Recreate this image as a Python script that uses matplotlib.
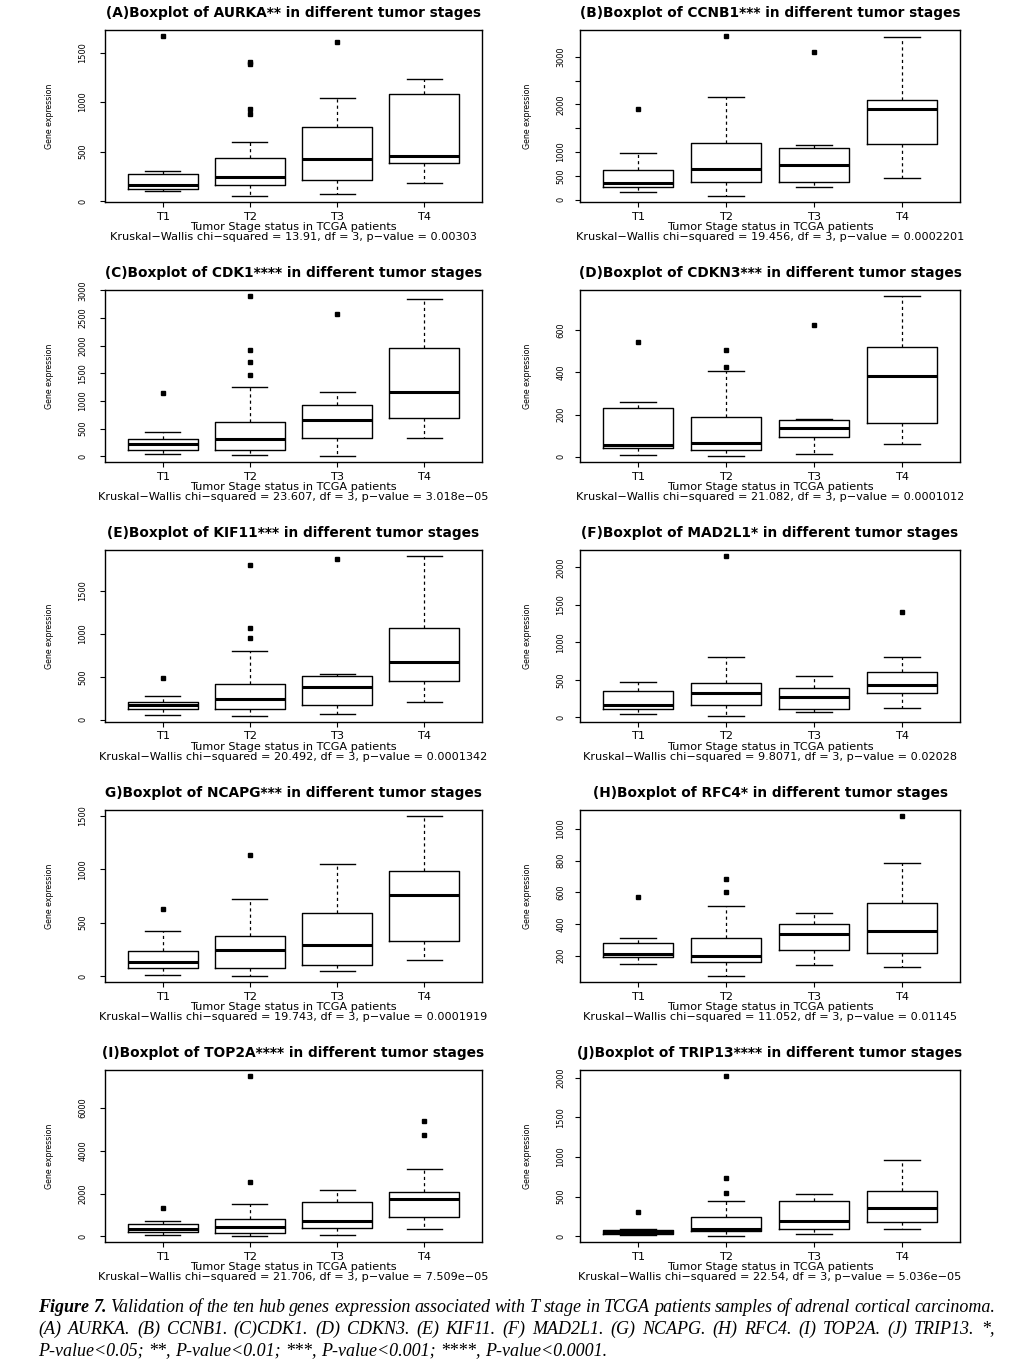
import matplotlib
matplotlib.use('Agg')
import matplotlib.pyplot as plt
from matplotlib import font_manager

W, H = 1022, 1370
DPI = 100

stages = ['T1', 'T2', 'T3', 'T4']

titles = [
    '(A)Boxplot of AURKA** in different tumor stages',
    '(B)Boxplot of CCNB1*** in different tumor stages',
    '(C)Boxplot of CDK1**** in different tumor stages',
    '(D)Boxplot of CDKN3*** in different tumor stages',
    '(E)Boxplot of KIF11*** in different tumor stages',
    '(F)Boxplot of MAD2L1* in different tumor stages',
    'G)Boxplot of NCAPG*** in different tumor stages',
    '(H)Boxplot of RFC4* in different tumor stages',
    '(I)Boxplot of TOP2A**** in different tumor stages',
    '(J)Boxplot of TRIP13**** in different tumor stages',
]

kw_texts = [
    'Kruskal\u2212Wallis chi\u2212squared = 13.91, df = 3, p\u2212value = 0.00303',
    'Kruskal\u2212Wallis chi\u2212squared = 19.456, df = 3, p\u2212value = 0.0002201',
    'Kruskal\u2212Wallis chi\u2212squared = 23.607, df = 3, p\u2212value = 3.018e\u221205',
    'Kruskal\u2212Wallis chi\u2212squared = 21.082, df = 3, p\u2212value = 0.0001012',
    'Kruskal\u2212Wallis chi\u2212squared = 20.492, df = 3, p\u2212value = 0.0001342',
    'Kruskal\u2212Wallis chi\u2212squared = 9.8071, df = 3, p\u2212value = 0.02028',
    'Kruskal\u2212Wallis chi\u2212squared = 19.743, df = 3, p\u2212value = 0.0001919',
    'Kruskal\u2212Wallis chi\u2212squared = 11.052, df = 3, p\u2212value = 0.01145',
    'Kruskal\u2212Wallis chi\u2212squared = 21.706, df = 3, p\u2212value = 7.509e\u221205',
    'Kruskal\u2212Wallis chi\u2212squared = 22.54, df = 3, p\u2212value = 5.036e\u221205',
]

xlabel_text = 'Tumor Stage status in TCGA patients'
ylabel_text = 'Gene expression'

# Five-number summaries per stage: [whisker low, Q1, median, Q3, whisker high]
aurka_stats = [[101, 125, 158, 276, 303], [54, 158, 246, 435, 600],
               [74, 216, 421, 752, 1045], [179, 388, 458, 1082, 1230]]
aurka_out = [[1665], [1405, 1390, 933, 883], [1607], []]
aurka_yticks = [0, 500, 1000, 1500]
aurka_ylabels = ['0', '500', '1000', '1500']

ccnb1_stats = [[161, 273, 357, 630, 987], [84, 371, 644, 1197, 2163],
               [273, 371, 721, 1092, 1155], [462, 1176, 1897, 2100, 3423]]
ccnb1_out = [[1897], [3430], [3101], []]
ccnb1_yticks = [0, 500, 1000, 1500, 2000, 2500, 3000]
ccnb1_ylabels = ['0', '500', '1000', '', '2000', '', '3000']

cdk1_stats = [[42, 108, 216, 318, 438], [30, 114, 318, 612, 1254],
              [12, 324, 654, 936, 1158], [330, 690, 1158, 1962, 2850]]
cdk1_out = [[1146], [2892, 1920, 1698, 1464], [2570], []]
cdk1_yticks = [0, 500, 1000, 1500, 2000, 2500, 3000]
cdk1_ylabels = ['0', '500', '1000', '1500', '2000', '2500', '3000']

cdkn3_stats = [[8, 43, 57, 230, 260], [6, 33, 65, 191, 405],
               [14, 95, 139, 173, 180], [61, 159, 383, 518, 759]]
cdkn3_out = [[545], [505, 427], [622], []]
cdkn3_yticks = [0, 200, 400, 600]
cdkn3_ylabels = ['0', '200', '400', '600']

kif11_stats = [[54, 131, 170, 213, 275], [50, 124, 240, 414, 804],
               [66, 170, 385, 514, 537], [213, 452, 677, 1071, 1899]]
kif11_out = [[483], [1798, 1063, 951], [1868], []]
kif11_yticks = [0, 500, 1000, 1500]
kif11_ylabels = ['0', '500', '1000', '1500']

mad2l1_stats = [[44, 106, 160, 355, 466], [22, 160, 324, 457, 798],
                [67, 115, 266, 390, 550], [129, 328, 430, 599, 807]]
mad2l1_out = [[], [2147], [], [1406]]
mad2l1_yticks = [0, 500, 1000, 1500, 2000]
mad2l1_ylabels = ['0', '500', '1000', '1500', '2000']

ncapg_stats = [[12, 78, 128, 236, 420], [3, 78, 246, 370, 722],
               [50, 103, 292, 594, 1048], [152, 330, 762, 980, 1496]]
ncapg_out = [[628], [1135], [], []]
ncapg_yticks = [0, 500, 1000, 1500]
ncapg_ylabels = ['0', '500', '1000', '1500']

rfc4_stats = [[150, 190, 210, 280, 309], [74, 158, 200, 311, 515],
              [143, 238, 339, 402, 467], [131, 215, 353, 534, 788]]
rfc4_out = [[572], [685, 603], [], [1080]]
rfc4_yticks = [200, 400, 600, 800, 1000]
rfc4_ylabels = ['200', '400', '600', '800', '1000']

top2a_stats = [[78, 186, 326, 559, 730], [31, 171, 451, 824, 1492],
               [47, 373, 715, 1616, 2145], [357, 917, 1740, 2067, 3139]]
top2a_out = [[1321], [7490, 2549], [], [5408, 4755]]
top2a_yticks = [0, 2000, 4000, 6000]
top2a_ylabels = ['0', '2000', '4000', '6000']

trip13_stats = [[21, 33, 54, 84, 88], [8, 63, 92, 238, 439],
                [29, 92, 188, 439, 527], [88, 176, 356, 565, 967]]
trip13_out = [[301], [2017, 741, 540], [], []]
trip13_yticks = [0, 500, 1000, 1500, 2000]
trip13_ylabels = ['0', '500', '1000', '1500', '2000']

panel_stats = [aurka_stats, ccnb1_stats, cdk1_stats, cdkn3_stats, kif11_stats,
               mad2l1_stats, ncapg_stats, rfc4_stats, top2a_stats, trip13_stats]
panel_out = [aurka_out, ccnb1_out, cdk1_out, cdkn3_out, kif11_out,
             mad2l1_out, ncapg_out, rfc4_out, top2a_out, trip13_out]
panel_yticks = [aurka_yticks, ccnb1_yticks, cdk1_yticks, cdkn3_yticks, kif11_yticks,
                mad2l1_yticks, ncapg_yticks, rfc4_yticks, top2a_yticks, trip13_yticks]
panel_ylabels = [aurka_ylabels, ccnb1_ylabels, cdk1_ylabels, cdkn3_ylabels, kif11_ylabels,
                 mad2l1_ylabels, ncapg_ylabels, rfc4_ylabels, top2a_ylabels, trip13_ylabels]

caption_line1 = 'Validation of the ten hub genes expression associated with T stage in TCGA patients samples of adrenal cortical carcinoma.'
caption_line2 = '(A) AURKA. (B) CCNB1. (C)CDK1. (D) CDKN3. (E) KIF11. (F) MAD2L1. (G) NCAPG. (H) RFC4. (I) TOP2A. (J) TRIP13. *,'
caption_line3 = 'P-value<0.05; **, P-value<0.01; ***, P-value<0.001; ****, P-value<0.0001.'

# ---------------- fonts ----------------
avail = {f.name for f in font_manager.fontManager.ttflist}
if 'Liberation Sans Narrow' in avail:
    NARROW = dict(family='Liberation Sans Narrow')
else:
    NARROW = dict(family='DejaVu Sans', stretch='condensed')
SANS = 'DejaVu Sans'
SERIF = 'Liberation Serif' if 'Liberation Serif' in avail else 'DejaVu Serif'

fig = plt.figure(figsize=(W / DPI, H / DPI), dpi=DPI)
fig.patch.set_facecolor('white')


def fx(x):
    return x / W


def fy(y):
    return 1 - y / H


col_geom = [(105, 377), (580, 380)]
row_tops = [30, 290, 550, 810, 1070]
AX_H = 172
ytick_off = [-22, -19]
ylab_x = [50, 527]
SUB_FS = 8.1

for i in range(10):
    r, c = divmod(i, 2)
    left, width = col_geom[c]
    top = row_tops[r]
    ax = fig.add_axes([fx(left), fy(top + AX_H), width / W, AX_H / H])

    stats_list = []
    allvals = []
    for s, o in zip(panel_stats[i], panel_out[i]):
        stats_list.append(dict(whislo=s[0], q1=s[1], med=s[2], q3=s[3], whishi=s[4], fliers=o))
        allvals += list(s) + list(o)

    ax.bxp(stats_list, positions=[1, 2, 3, 4], widths=0.8, showfliers=True,
           manage_ticks=False,
           boxprops=dict(color='black', linewidth=1.0),
           whiskerprops=dict(color='black', linewidth=0.9, linestyle=(0, (2.5, 2.5))),
           capprops=dict(color='black', linewidth=1.0),
           medianprops=dict(color='black', linewidth=2.2, solid_capstyle='butt'),
           flierprops=dict(marker='s', markerfacecolor='black', markeredgecolor='black',
                           markersize=2.5, linestyle='none'))

    lo, hi = min(allvals), max(allvals)
    rng = hi - lo
    ax.set_ylim(lo - 0.04 * rng, hi + 0.04 * rng)
    ax.set_xlim(0.34, 4.66)

    for sp in ax.spines.values():
        sp.set_linewidth(1.0)
        sp.set_color('black')

    ax.set_xticks([1, 2, 3, 4])
    ax.set_xticklabels([])
    ax.set_yticks(panel_yticks[i])
    ax.set_yticklabels([])
    ax.tick_params(axis='both', direction='out', length=3.6, width=0.8, color='black')
    ax.tick_params(axis='x', top=False)
    ax.tick_params(axis='y', right=False)

    # x tick labels
    for k, lab in enumerate(stages):
        ax.annotate(lab, xy=(k + 1, 0), xycoords=('data', 'axes fraction'),
                    xytext=(0, -14.5), textcoords='offset pixels',
                    ha='center', va='center', fontsize=SUB_FS, family=SANS)
    # y tick labels (rotated, like R)
    for v, lab in zip(panel_yticks[i], panel_ylabels[i]):
        if lab:
            ax.annotate(lab, xy=(0, v), xycoords=('axes fraction', 'data'),
                        xytext=(ytick_off[c], 0), textcoords='offset pixels',
                        rotation=90, ha='center', va='center', fontsize=6.6, **NARROW)

    cx = left + width / 2
    fig.text(fx(cx), fy(top - 17), titles[i], ha='center', va='center',
             fontsize=9.9, fontweight='bold', family=SANS)
    fig.text(fx(cx), fy(top + AX_H + 25), xlabel_text, ha='center', va='center',
             fontsize=SUB_FS, family=SANS)
    fig.text(fx(cx), fy(top + AX_H + 34.5), kw_texts[i], ha='center', va='center',
             fontsize=SUB_FS, family=SANS)
    fig.text(fx(ylab_x[c]), fy(top + AX_H / 2), ylabel_text, rotation=90,
             ha='center', va='center', fontsize=6.3, **NARROW)

# ---------------- caption ----------------
renderer = fig.canvas.get_renderer()
CAP_FS = 13.0


def draw_line(words, y_px, x0, x1, justify):
    objs = []
    for w, bold in words:
        t = fig.text(0, fy(y_px), w, fontsize=CAP_FS, family=SERIF, style='italic',
                     fontweight='bold' if bold else 'normal', ha='left', va='center')
        objs.append(t)
    widths = [t.get_window_extent(renderer).width for t in objs]
    nat_gap = CAP_FS * DPI / 72 * 0.25
    if justify and len(objs) > 1:
        gap = (x1 - x0 - sum(widths)) / (len(objs) - 1)
        gap = max(gap, nat_gap * 0.5)
    else:
        gap = nat_gap
    x = x0
    for t, wd in zip(objs, widths):
        t.set_x(fx(x))
        x += wd + gap


line1 = [('Figure', True), ('7.', True)] + [(w, False) for w in caption_line1.split(' ')]
line2 = [(w, False) for w in caption_line2.split(' ')]
line3 = [(w, False) for w in caption_line3.split(' ')]
draw_line(line1, 1307, 38, 995, True)
draw_line(line2, 1329, 38, 995, True)
draw_line(line3, 1351, 38, 995, False)

fig.savefig('out.png', dpi=DPI, facecolor='white')
